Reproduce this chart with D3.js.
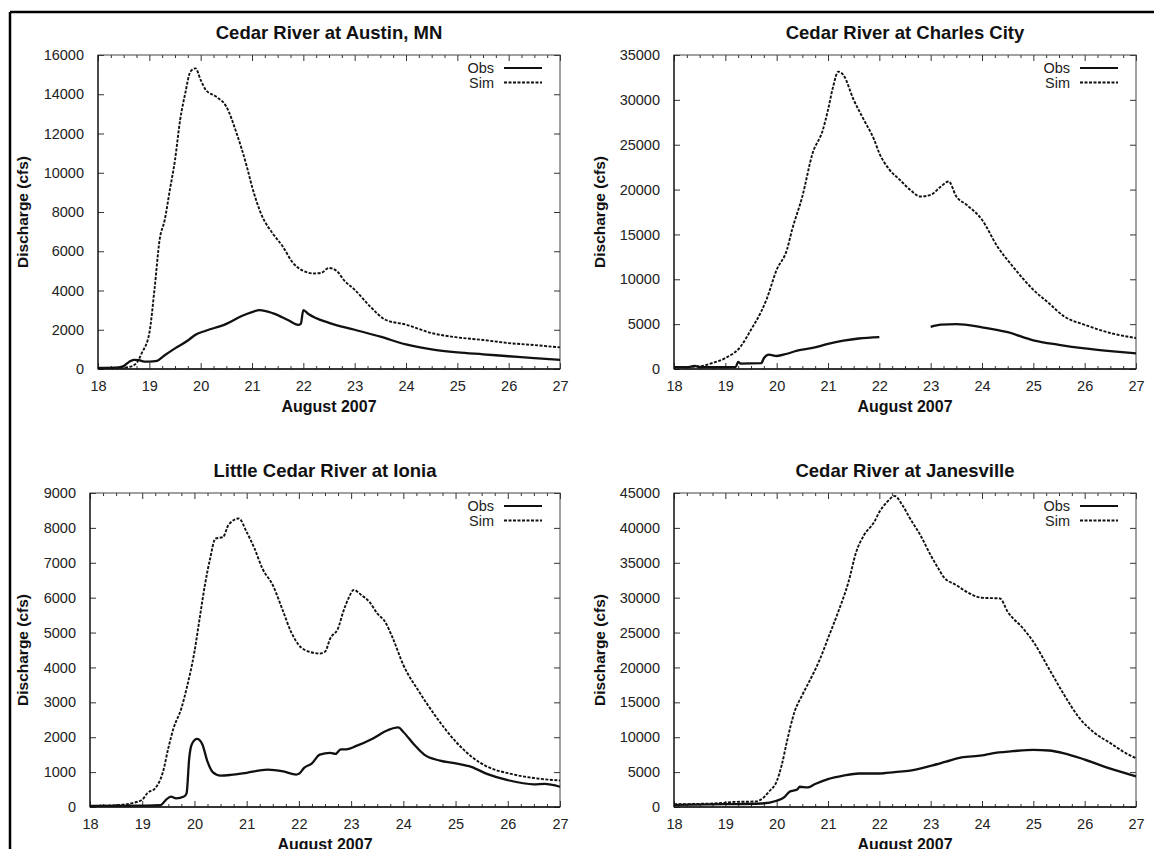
<!DOCTYPE html>
<html>
<head>
<meta charset="utf-8">
<script src="https://cdn.jsdelivr.net/npm/d3@7"></script>
<style>
  html, body { margin: 0; padding: 0; background: #fff; }
  svg { display: block; font-family: "Liberation Sans", Arial, Helvetica, sans-serif; }
</style>
</head>
<body>
<svg id="chart" width="1154" height="849"></svg>
<script>
// ---------- DATA ----------
const xTicks = [18, 19, 20, 21, 22, 23, 24, 25, 26, 27];
const xLabel = "August 2007";
const yLabel = "Discharge (cfs)";
const legendLabels = ["Obs", "Sim"];

const titles = ["Cedar River at Austin, MN", "Cedar River at Charles City",
                "Little Cedar River at Ionia", "Cedar River at Janesville"];
const yMaxes = [16000, 35000, 9000, 45000];
const yStepsList = [2000, 5000, 1000, 5000];

const austinObs = [[18.0,50],[18.4,80],[18.5,150],[18.6,350],[18.7,470],[18.8,450],[18.9,380],[19.0,380],
  [19.15,420],[19.3,700],[19.5,1050],[19.75,1450],[19.9,1750],[20.1,1950],[20.5,2300],[20.8,2700],
  [21.0,2900],[21.15,3000],[21.4,2850],[21.7,2500],[21.9,2250],[21.95,2300],[22.0,3000],[22.1,2800],
  [22.5,2350],[23.0,2000],[23.5,1650],[24.0,1250],[24.5,1000],[25.0,850],[25.5,750],[26.0,650],
  [26.5,550],[27.0,470]];
const austinSim = [[18.0,50],[18.4,50],[18.6,100],[18.75,300],[18.85,800],[19.0,1830],[19.1,4040],
  [19.2,6580],[19.3,7600],[19.4,9130],[19.5,10650],[19.6,12690],[19.7,14050],[19.8,15150],[19.9,15320],
  [20.0,14730],[20.1,14220],[20.3,13880],[20.5,13370],[20.7,12010],[20.9,10310],[21.0,9300],[21.2,7770],
  [21.4,6920],[21.6,6240],[21.8,5400],[22.0,5000],[22.2,4870],[22.35,4900],[22.5,5150],[22.65,5000],
  [22.8,4500],[23.0,4040],[23.3,3190],[23.6,2510],[24.0,2260],[24.5,1830],[25.0,1610],[25.5,1480],
  [26.0,1320],[26.5,1220],[27.0,1100]];

const charlesObs = [[18.0,200],[18.3,220],[18.4,350],[18.5,200],[19.0,200],[19.2,200],[19.25,800],
  [19.3,600],[19.7,650],[19.75,1200],[19.85,1600],[20.0,1450],[20.2,1700],[20.4,2050],[20.7,2350],
  [21.0,2800],[21.3,3150],[21.6,3400],[22.0,3550],[22.5,null],[23.0,4700],[23.2,4950],[23.5,5000],
  [24.0,4650],[24.5,4100],[25.0,3200],[25.5,2700],[26.0,2300],[26.5,2000],[27.0,1750]];
const charlesSim = [[18.0,200],[18.5,300],[18.75,670],[19.0,1220],[19.3,2520],[19.5,4380],[19.7,6420],
  [19.8,7720],[20.0,11060],[20.2,13290],[20.3,15510],[20.5,19230],[20.7,24050],[20.9,26650],[21.0,28880],
  [21.1,31470],[21.2,33150],[21.3,32770],[21.5,30000],[21.7,27760],[21.9,25540],[22.0,24050],[22.2,22200],
  [22.4,21080],[22.6,19970],[22.8,19230],[23.0,19410],[23.2,20340],[23.35,20900],[23.5,19230],
  [23.7,18300],[24.0,16630],[24.3,13660],[24.6,11430],[25.0,8830],[25.3,7350],[25.6,5860],[26.0,4930],
  [26.5,4010],[27.0,3450]];

const ioniaObs = [[18.0,30],[19.0,40],[19.35,50],[19.45,200],[19.55,300],[19.65,250],[19.8,300],
  [19.85,400],[19.9,1400],[19.95,1800],[20.05,1950],[20.15,1800],[20.25,1300],[20.35,1000],[20.5,900],
  [20.7,920],[21.0,980],[21.4,1070],[21.7,1020],[21.95,930],[22.0,950],[22.1,1120],[22.25,1250],
  [22.4,1500],[22.6,1550],[22.7,1520],[22.8,1650],[22.9,1650],[23.1,1750],[23.4,1950],[23.7,2200],
  [23.9,2280],[24.0,2150],[24.2,1800],[24.4,1500],[24.7,1330],[25.0,1250],[25.3,1150],[25.6,950],
  [26.0,770],[26.5,650],[26.7,660],[27.0,580]];
const ioniaSim = [[18.0,30],[18.5,50],[18.8,110],[19.0,210],[19.1,400],[19.25,540],[19.4,1020],
  [19.5,1690],[19.6,2260],[19.75,2830],[19.85,3400],[20.0,4450],[20.1,5410],[20.2,6360],[20.3,7120],
  [20.4,7690],[20.55,7740],[20.65,8080],[20.85,8270],[21.0,7880],[21.15,7410],[21.3,6840],[21.5,6360],
  [21.7,5600],[21.85,5020],[22.0,4640],[22.2,4450],[22.4,4400],[22.5,4450],[22.6,4830],[22.75,5120],
  [22.85,5600],[22.95,5980],[23.05,6220],[23.2,6070],[23.35,5880],[23.5,5550],[23.65,5310],[23.8,4830],
  [24.0,4070],[24.3,3310],[24.6,2640],[25.0,1880],[25.3,1450],[25.6,1160],[26.0,970],[26.5,830],
  [27.0,760]];

const janesObs = [[18.0,300],[19.0,400],[19.7,500],[20.0,900],[20.15,1400],[20.25,2200],[20.4,2500],
  [20.45,2900],[20.6,2800],[20.75,3300],[21.0,4000],[21.3,4500],[21.6,4800],[22.0,4800],[22.3,5000],
  [22.6,5200],[23.0,5900],[23.3,6500],[23.6,7100],[24.0,7400],[24.2,7700],[24.6,8000],[25.0,8200],
  [25.3,8100],[25.6,7700],[26.0,6800],[26.5,5500],[27.0,4400]];
const janesSim = [[18.0,400],[18.5,450],[19.0,600],[19.1,700],[19.6,800],[19.75,1400],[19.85,2200],
  [20.0,3670],[20.1,6050],[20.2,9390],[20.35,13680],[20.5,16070],[20.7,18920],[20.85,21310],[21.0,24170],
  [21.2,27980],[21.4,32270],[21.55,36560],[21.7,38950],[21.9,40850],[22.0,42280],[22.15,43710],
  [22.3,44570],[22.45,43240],[22.6,41330],[22.8,38950],[23.0,36090],[23.15,34180],[23.25,32990],
  [23.5,31800],[23.7,30840],[24.0,29980],[24.35,29890],[24.5,27980],[24.8,25600],[25.0,23690],
  [25.3,19880],[25.6,16070],[25.9,12730],[26.2,10580],[26.5,9150],[26.8,7720],[27.0,7010]];

const obsSeries = [austinObs, charlesObs, ioniaObs, janesObs];
const simSeries = [austinSim, charlesSim, ioniaSim, janesSim];

// ---------- LAYOUT ----------
const boxes = [
  {x0: 98,  x1: 560,  y0: 55,  y1: 369},
  {x0: 674, x1: 1136, y0: 55,  y1: 369},
  {x0: 90,  x1: 560,  y0: 493, y1: 807},
  {x0: 674, x1: 1136, y0: 493, y1: 807}
];
const yLabelX = [22, 599, 22, 599];

const svg = d3.select("#chart");

// page frame (top and left rules)
svg.append("line").attr("x1", 10).attr("x2", 1154).attr("y1", 12).attr("y2", 12)
  .attr("stroke", "#000").attr("stroke-width", 2.5);
svg.append("line").attr("x1", 10).attr("x2", 10).attr("y1", 12).attr("y2", 849)
  .attr("stroke", "#000").attr("stroke-width", 2.5);

boxes.forEach((b, i) => {
  const g = svg.append("g");
  const x = d3.scaleLinear().domain([18, 27]).range([b.x0, b.x1]);
  const y = d3.scaleLinear().domain([0, yMaxes[i]]).range([b.y1, b.y0]);
  const yTicks = d3.range(0, yMaxes[i] + 1, yStepsList[i]);
  const minor = d3.range(18, 27.001, 0.25).filter(v => Math.abs(v - Math.round(v)) > 0.01);

  const tickStyle = sel => {
    sel.select(".domain").remove();
    sel.selectAll("line").attr("stroke", "#333").attr("stroke-width", 1);
  };
  g.append("g").attr("transform", `translate(0,${b.y1})`)
    .call(d3.axisBottom(x).tickValues(xTicks).tickSizeInner(-6).tickSizeOuter(0).tickPadding(12).tickFormat(d3.format("d")))
    .call(tickStyle)
    .call(s => s.selectAll("text").attr("font-size", 14.5).attr("fill", "#222")
      .attr("font-family", "Liberation Sans, Arial, sans-serif"));
  g.append("g").attr("transform", `translate(0,${b.y1})`)
    .call(d3.axisBottom(x).tickValues(minor).tickSize(-3).tickFormat(""))
    .call(tickStyle);
  g.append("g").attr("transform", `translate(0,${b.y0})`)
    .call(d3.axisTop(x).tickValues(xTicks).tickSize(-6).tickFormat(""))
    .call(tickStyle);
  g.append("g").attr("transform", `translate(0,${b.y0})`)
    .call(d3.axisTop(x).tickValues(minor).tickSize(-3).tickFormat(""))
    .call(tickStyle);
  g.append("g").attr("transform", `translate(${b.x0},0)`)
    .call(d3.axisLeft(y).tickValues(yTicks).tickSizeInner(-6).tickSizeOuter(0).tickPadding(14).tickFormat(d3.format("d")))
    .call(tickStyle)
    .call(s => s.selectAll("text").attr("font-size", 14.5).attr("fill", "#222")
      .attr("font-family", "Liberation Sans, Arial, sans-serif"));
  g.append("g").attr("transform", `translate(${b.x1},0)`)
    .call(d3.axisRight(y).tickValues(yTicks).tickSize(-6).tickFormat(""))
    .call(tickStyle);

  g.append("rect").attr("x", b.x0).attr("y", b.y0).attr("width", b.x1 - b.x0).attr("height", b.y1 - b.y0)
    .attr("fill", "none").attr("stroke", "#444").attr("stroke-width", 1);
  g.append("line").attr("x1", b.x0).attr("x2", b.x1).attr("y1", b.y1).attr("y2", b.y1)
    .attr("stroke", "#111").attr("stroke-width", 1.5);
  g.append("line").attr("x1", b.x0).attr("x2", b.x0).attr("y1", b.y0).attr("y2", b.y1)
    .attr("stroke", "#111").attr("stroke-width", 1.2);

  const line = d3.line().defined(d => d[1] !== null).x(d => x(d[0])).y(d => y(d[1])).curve(d3.curveMonotoneX);

  g.append("path").datum(simSeries[i]).attr("d", line)
    .attr("fill", "none").attr("stroke", "#111").attr("stroke-width", 1.9).attr("stroke-dasharray", "3,1.5");
  g.append("path").datum(obsSeries[i]).attr("d", line)
    .attr("fill", "none").attr("stroke", "#111").attr("stroke-width", 2.3).attr("stroke-linejoin", "round");

  g.append("text").attr("x", (b.x0 + b.x1) / 2).attr("y", b.y0 - 16)
    .attr("text-anchor", "middle").attr("font-size", 18.5).attr("font-weight", "bold").attr("fill", "#111")
    .text(titles[i]);
  g.append("text").attr("x", (b.x0 + b.x1) / 2).attr("y", b.y1 + 43)
    .attr("text-anchor", "middle").attr("font-size", 16).attr("font-weight", "bold").attr("fill", "#111")
    .text(xLabel);
  g.append("text").attr("transform", `translate(${yLabelX[i]},${(b.y0 + b.y1) / 2}) rotate(-90)`)
    .attr("text-anchor", "middle").attr("dominant-baseline", "central")
    .attr("font-size", 15.5).attr("font-weight", "bold").attr("fill", "#111")
    .text(yLabel);

  const lg = g.append("g");
  legendLabels.forEach((lab, k) => {
    const ly = b.y0 + 13 + k * 14.5;
    lg.append("text").attr("x", b.x1 - 66).attr("y", ly).attr("dominant-baseline", "central")
      .attr("text-anchor", "end").attr("font-size", 14.5).attr("fill", "#222").text(lab);
    lg.append("line").attr("x1", b.x1 - 56).attr("x2", b.x1 - 18).attr("y1", ly).attr("y2", ly)
      .attr("stroke", "#111").attr("stroke-width", k === 0 ? 2.2 : 1.8)
      .attr("stroke-dasharray", k === 0 ? null : "3,1.5");
  });
});
</script>
</body>
</html>
